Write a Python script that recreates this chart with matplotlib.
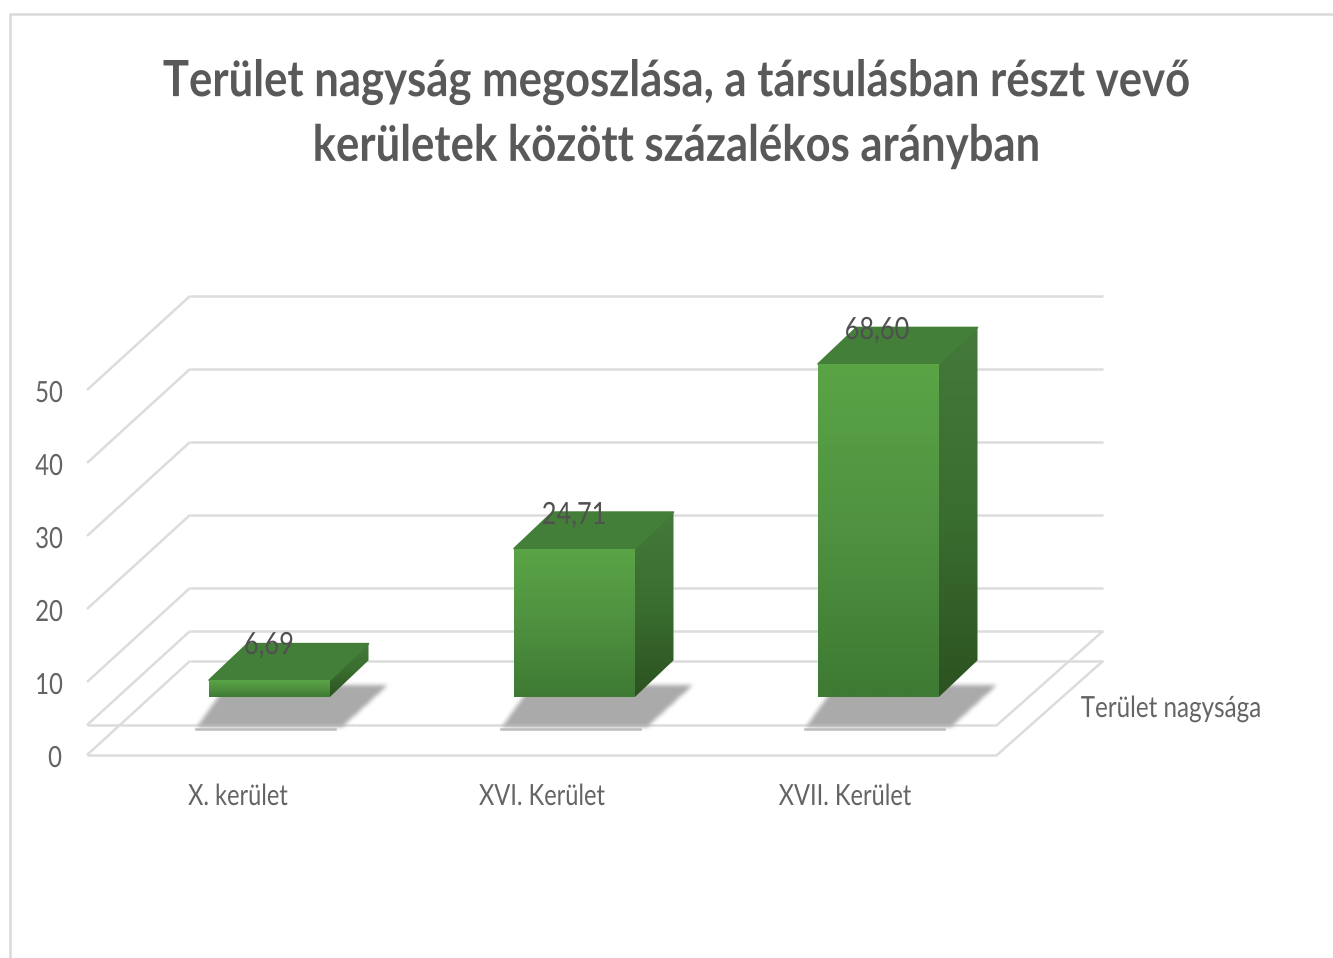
import numpy as np
import matplotlib
matplotlib.use("Agg")
import matplotlib.pyplot as plt
from matplotlib.colors import to_rgb
from matplotlib.path import Path
from matplotlib.patches import Polygon
from matplotlib.patheffects import AbstractPathEffect
from matplotlib.transforms import Affine2D

# ---- data ----
categories = ["X. kerület", "XVI. Kerület", "XVII. Kerület"]
values = [6.69, 24.71, 68.60]
value_labels = ["6,69", "24,71", "68,60"]
y_ticks = [0, 10, 20, 30, 40, 50]
series_name = "Terület nagysága"
title = "Terület nagyság megoszlása, a társulásban részt vevő\nkerületek között százalékos arányban"

AXIS_MAX = 50
BASE = 4.4
DPI = 100
W, H = 1333, 958

fig = plt.figure(figsize=(W / DPI, H / DPI), dpi=DPI, facecolor="white")
ax = fig.add_axes([0, 0, 1, 1])
ax.set_xlim(0, W)
ax.set_ylim(H, 0)
ax.axis("off")


class SqueezeX(AbstractPathEffect):
    """Condense glyphs horizontally around a pixel column."""
    def __init__(self, sx, cx):
        super().__init__()
        self.sx, self.cx = sx, cx

    def draw_path(self, renderer, gc, tpath, affine, rgbFace=None):
        a = affine + Affine2D().translate(-self.cx, 0).scale(self.sx, 1).translate(self.cx, 0)
        renderer.draw_path(gc, tpath, a, rgbFace)


def label(x, y, s, size, color="#646464", sx=0.85, weight="normal", zorder=20, **kw):
    t = ax.text(x, y, s, fontsize=size, color=color, family="Lato", weight=weight,
                ha="center", va="center", zorder=zorder, **kw)
    t.set_path_effects([SqueezeX(sx, x)])
    return t


def py(v, d=0.0):
    """pixel row of a value at depth d (0 front, 1 back wall)"""
    return 755 - 7.3 * v - 94 * d


GRID = "#dcdcdc"
LW = 1.8


def line(xs, ys):
    ax.plot(xs, ys, color=GRID, lw=LW, solid_capstyle="butt", zorder=1)


# chart frame
ax.plot([10, 10, W], [H, 14, 14], color="#d9d9d9", lw=1.8, zorder=0)

# walls
for v in y_ticks[1:]:
    line([87, 190], [py(v), py(v, 1)])
    line([190, 1103], [py(v, 1), py(v, 1)])
# floor plate (bottom and top)
for v in [0, 4.1]:
    line([87, 190], [py(v), py(v, 1)])
    line([190, 1103], [py(v, 1), py(v, 1)])
    line([87, 997], [py(v), py(v)])
    line([997, 1103], [py(v), py(v, 1)])


def vgrad(poly, stops, y0, y1, zorder):
    """vertical gradient clipped to a polygon"""
    cols = np.array([to_rgb(c) for c in stops])
    n = 64
    t = np.linspace(0, 1, n)
    st = np.linspace(0, 1, len(stops))
    img = np.stack([np.interp(t, st, cols[:, i]) for i in range(3)], axis=1)[:, None, :]
    xs = [p[0] for p in poly]
    im = ax.imshow(img, extent=[min(xs), max(xs), y1, y0], aspect="auto", zorder=zorder,
                   interpolation="bilinear")
    im.set_clip_path(Polygon(poly, closed=True, transform=ax.transData))


def soft_shadow(poly, zorder, blur=5):
    """blurred grey polygon drawn as an RGBA image"""
    xs = [p[0] for p in poly]
    ys = [p[1] for p in poly]
    m = blur * 2
    xa, xb, ya, yb = int(min(xs)) - m, int(max(xs)) + m, int(min(ys)) - m, int(max(ys)) + m
    gx, gy = np.meshgrid(np.arange(xa, xb) + .5, np.arange(ya, yb) + .5)
    mask = Path(poly).contains_points(np.c_[gx.ravel(), gy.ravel()]).reshape(gx.shape).astype(float)
    k = np.ones(blur) / blur
    for _ in range(2):
        mask = np.apply_along_axis(lambda r: np.convolve(r, k, mode="same"), 0, mask)
        mask = np.apply_along_axis(lambda r: np.convolve(r, k, mode="same"), 1, mask)
    rgba = np.zeros(mask.shape + (4,))
    rgba[..., :3] = 0.67
    rgba[..., 3] = mask
    ax.imshow(rgba, extent=[xa, xb, yb, ya], aspect="auto", zorder=zorder, interpolation="bilinear")


bar_w = 121
bar_x0 = [209, 514, 818]
DX, DY = 38.5, 36.5
depth_bar = 26 / 94

for i, (x0, v) in enumerate(zip(bar_x0, values)):
    x1 = x0 + bar_w
    yt = py(min(v, AXIS_MAX), depth_bar)
    yb = py(BASE, depth_bar)
    # shadow
    soft_shadow([(x0 - 12, 727), (x1 + 12, 727), (x1 + 58, 685), (x1, 685), (x1, yb - 4), (x0 + 12, yb - 4)], 2)
    ax.plot([x0 - 13, x1 + 5], [729, 729], color="#bcbcbc", lw=1.8, zorder=2)
    # side, top, front
    vgrad([(x1, yt), (x1 + DX, yt - DY), (x1 + DX, yb - DY), (x1, yb)],
          ["#43793a", "#3a6e30", "#2c5220"], yt - DY, yb, 3)
    ax.add_patch(Polygon([(x0, yt), (x0 + DX, yt - DY), (x1 + DX, yt - DY), (x1, yt)],
                         closed=True, fc="#437f38", ec="#437f38", lw=1.2, joinstyle="round", zorder=3))
    vgrad([(x0, yt), (x1, yt), (x1, yb), (x0, yb)],
          ["#5aa446", "#4f9140", "#3e7a33"], yt, yb, 4)
    # value label
    lab_x = [269, 574, 877][i]
    lab_y = [645, 515, 330][i]
    label(lab_x, lab_y, value_labels[i], 22, color="#505050", sx=0.83)

ax.set_xlim(0, W)
ax.set_ylim(H, 0)

# tick labels
for v in y_ticks:
    label(49 if v else 55, py(v) + 4, str(v), 21, sx=0.82)
for x, c in zip([238, 542, 845], categories):
    label(x, 797, c, 21, sx=0.81)
label(1171, 709, series_name, 21, sx=0.83)

# title
label(676, 114, title, 36, color="#595959", sx=0.873, weight="bold", linespacing=1.52)

fig.savefig("out.png", dpi=DPI, facecolor="white")
